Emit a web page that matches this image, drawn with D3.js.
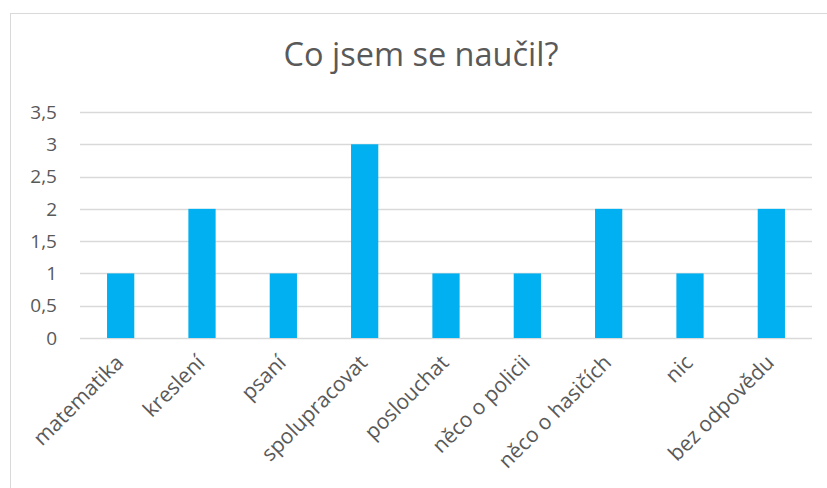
<!DOCTYPE html>
<html>
<head>
<meta charset="utf-8">
<script src="https://cdn.jsdelivr.net/npm/d3@7"></script>
<style>
  body { margin: 0; background: #ffffff; }
  text { font-family: "Open Sans", Lato, sans-serif; fill: #595959; }
</style>
</head>
<body>
<svg id="chart" width="827" height="488"></svg>
<script>
const categories = ['matematika', 'kreslení', 'psaní', 'spolupracovat', 'poslouchat',
  'něco o policii', 'něco o hasičích', 'nic', 'bez odpovědu'];
const counts = [1, 2, 1, 3, 1, 1, 2, 1, 2];
const yTicks = [0, 0.5, 1, 1.5, 2, 2.5, 3, 3.5];
const title = 'Co jsem se naučil?';

const svg = d3.select('#chart');
const margin = { top: 112, right: 15, bottom: 150, left: 80 };

// chart area frame, runs off the right and bottom edges
svg.append('rect')
  .attr('x', 10.5).attr('y', 13.5)
  .attr('width', 900).attr('height', 600)
  .attr('fill', 'none')
  .attr('stroke', '#d9d9d9');

svg.append('text')
  .attr('x', 421).attr('y', 66)
  .attr('text-anchor', 'middle')
  .style('font-size', '32.5px')
  .text(title);

const x = d3.scaleBand()
  .domain(categories)
  .range([margin.left, 812])
  .paddingInner(0.665)
  .paddingOuter(0.3325);

const y = d3.scaleLinear()
  .domain([0, 3.5])
  .range([338, margin.top]);

// gridlines
svg.append('g')
  .selectAll('line')
  .data(yTicks)
  .enter()
  .append('line')
  .attr('x1', margin.left).attr('x2', 812)
  .attr('y1', d => Math.round(y(d)) + 0.5)
  .attr('y2', d => Math.round(y(d)) + 0.5)
  .attr('stroke', '#d9d9d9')
  .attr('stroke-width', 1.5);

// y labels
svg.append('g')
  .selectAll('text')
  .data(yTicks)
  .enter()
  .append('text')
  .attr('x', 57)
  .attr('y', d => y(d))
  .attr('dy', '0.35em')
  .attr('text-anchor', 'end')
  .style('font-size', '19px')
  .text(d => String(d).replace('.', ','));

svg.append('g')
  .selectAll('rect')
  .data(counts)
  .enter()
  .append('rect')
  .attr('x', (d, i) => x(categories[i]))
  .attr('y', d => y(d))
  .attr('width', x.bandwidth())
  .attr('height', d => y(0) - y(d))
  .attr('fill', '#00b0f0');

// x labels, rotated
svg.append('g')
  .selectAll('text')
  .data(categories)
  .enter()
  .append('text')
  .attr('text-anchor', 'end')
  .attr('transform', d => 'translate(' + (x(d) + x.bandwidth() / 2 + 4) + ',364) rotate(-45)')
  .style('font-size', '21px')
  .text(d => d);
</script>
</body>
</html>
